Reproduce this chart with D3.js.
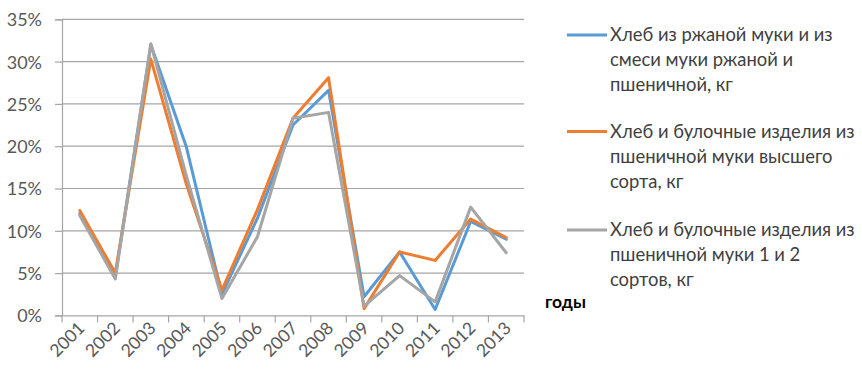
<!DOCTYPE html>
<html>
<head>
<meta charset="utf-8">
<script src="https://cdn.jsdelivr.net/npm/d3@7/dist/d3.min.js"></script>
<style>
  html, body { margin: 0; padding: 0; background: #fff; }
  svg { display: block; }
  text { font-family: Lato, "Open Sans", "Noto Sans", sans-serif; }
</style>
</head>
<body>
<svg id="chart" width="862" height="372"></svg>
<script>
// Годы наблюдений
const years = ["2001","2002","2003","2004","2005","2006","2007","2008","2009","2010","2011","2012","2013"];

// Темпы прироста цен, %
const ryeBread = [12.0, 4.6, 32.0, 19.9, 2.5, 11.5, 22.5, 26.6, 2.2, 7.5, 0.7, 11.1, 9.0];
const premiumBread = [12.4, 5.0, 30.3, 15.5, 3.0, 12.5, 23.3, 28.1, 0.8, 7.5, 6.5, 11.4, 9.2];
const firstGradeBread = [11.8, 4.3, 32.1, 16.5, 2.0, 9.3, 23.3, 24.0, 1.1, 4.7, 1.6, 12.8, 7.4];

const seriesNames = [
  ["Хлеб из ржаной муки и из", "смеси муки ржаной и", "пшеничной, кг"],
  ["Хлеб и булочные изделия из", "пшеничной муки высшего", "сорта, кг"],
  ["Хлеб и булочные изделия из", "пшеничной муки 1 и 2", "сортов, кг"]
];
const seriesColors = ["#5B9BD5", "#ED7D31", "#A5A5A5"];
const yTicks = [0, 5, 10, 15, 20, 25, 30, 35];
const xAxisTitle = "годы";

const series = [ryeBread, premiumBread, firstGradeBread];

const svg = d3.select("#chart");
const plot = { left: 62, right: 524, top: 19.3, bottom: 315.4 };

const x = d3.scaleBand().domain(years).range([plot.left, plot.right]);
const y = d3.scaleLinear().domain([0, 35]).range([plot.bottom, plot.top]);

// Горизонтальная сетка
svg.append("g")
  .selectAll("line")
  .data(yTicks.filter(t => t > 0))
  .join("line")
  .attr("x1", plot.left).attr("x2", plot.right)
  .attr("y1", d => y(d)).attr("y2", d => y(d))
  .attr("stroke", "#A6A6A6").attr("stroke-width", 1.2);

// Ось Y
const yAxis = svg.append("g")
  .attr("transform", `translate(${plot.left},0)`)
  .call(d3.axisLeft(y).tickValues(yTicks).tickFormat(d => d + "%").tickSize(7).tickPadding(13));
yAxis.select(".domain").attr("stroke", "#A6A6A6").attr("stroke-width", 1.2);
yAxis.selectAll(".tick line").attr("stroke", "#A6A6A6").attr("stroke-width", 1.2);
yAxis.selectAll(".tick text")
  .attr("fill", "#595959").style("font-size", "18px").attr("dy", "0.36em");

// Ось X
const xAxis = svg.append("g")
  .attr("transform", `translate(0,${plot.bottom})`)
  .call(d3.axisBottom(x).tickSize(0).tickFormat(d => d));
xAxis.select(".domain").attr("stroke", "#A6A6A6").attr("stroke-width", 1.2);
xAxis.selectAll(".tick text")
  .attr("fill", "#595959").style("font-size", "17.5px")
  .attr("text-anchor", "end")
  .attr("dy", 0).attr("y", 0)
  .attr("transform", "translate(6,14) rotate(-45)");

// Засечки между категориями
const edges = years.map(d => x(d)).concat([plot.right]);
svg.append("g")
  .selectAll("line")
  .data(edges)
  .join("line")
  .attr("x1", d => d).attr("x2", d => d)
  .attr("y1", plot.bottom).attr("y2", plot.bottom + 7)
  .attr("stroke", "#A6A6A6").attr("stroke-width", 1.2);

// Линии рядов
const line = d3.line()
  .x((d, i) => x(years[i]) + x.bandwidth() / 2)
  .y(d => y(d));

svg.append("g")
  .selectAll("path")
  .data(series)
  .join("path")
  .attr("d", d => line(d))
  .attr("fill", "none")
  .attr("stroke", (d, i) => seriesColors[i])
  .attr("stroke-width", 3)
  .attr("stroke-linejoin", "round")
  .attr("stroke-linecap", "round");

// Легенда
const legend = svg.append("g");
const legendTop = [35, 131.5, 230];
seriesNames.forEach((lines, i) => {
  const g = legend.append("g").attr("transform", `translate(0,${legendTop[i]})`);
  g.append("line")
    .attr("x1", 567).attr("x2", 607).attr("y1", 0).attr("y2", 0)
    .attr("stroke", seriesColors[i]).attr("stroke-width", 3);
  lines.forEach((t, j) => {
    g.append("text")
      .attr("x", 610).attr("y", 6 + j * 25)
      .attr("fill", "#404040")
      .style("font-size", "18.4px")
      .text(t);
  });
});

// Подпись оси X
svg.append("text")
  .attr("x", 545).attr("y", 308)
  .attr("fill", "#000")
  .style("font-size", "17.5px").style("font-weight", "bold")
  .text(xAxisTitle);
</script>
</body>
</html>
